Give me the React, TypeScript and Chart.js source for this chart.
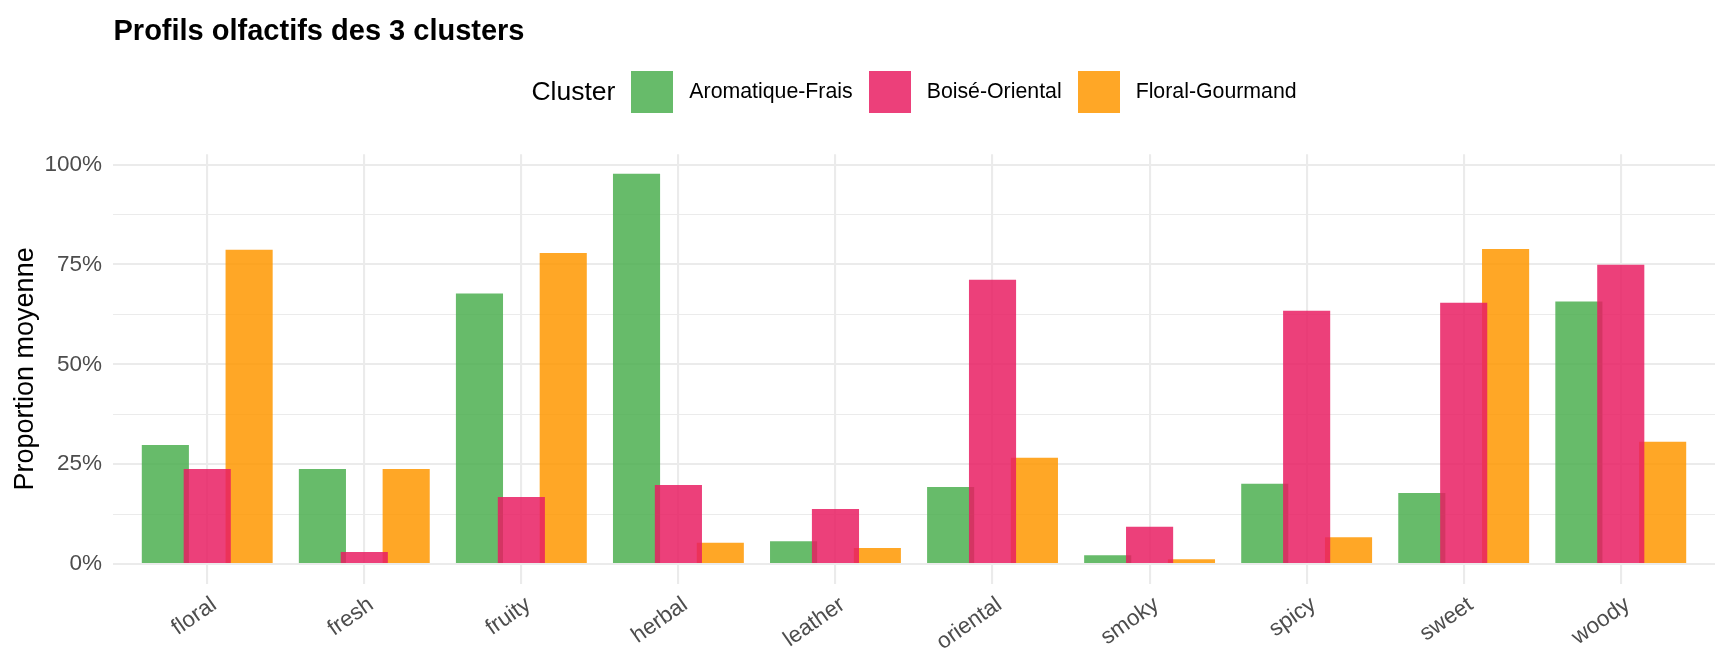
import React, { useEffect, useRef } from "react";
import { Chart, registerables } from "chart.js";

Chart.register(...registerables);

const categories = ["floral", "fresh", "fruity", "herbal", "leather", "oriental", "smoky", "spicy", "sweet", "woody"];
const clusterNames = ["Aromatique-Frais", "Boisé-Oriental", "Floral-Gourmand"];
const aromatiqueFrais = [29.8, 23.8, 67.7, 97.7, 5.7, 19.3, 2.2, 20.1, 17.8, 65.7];
const boiseOriental = [23.8, 3.0, 16.8, 19.8, 13.8, 71.2, 9.3, 63.4, 65.4, 74.9];
const floralGourmand = [78.7, 23.8, 77.9, 5.3, 4.0, 26.6, 1.2, 6.7, 78.9, 30.6];
const yMajorTicks = [0, 25, 50, 75, 100];
const yMinorTicks = [12.5, 37.5, 62.5, 87.5];

const colors = ["rgba(76, 175, 80, 0.85)", "rgba(233, 30, 99, 0.85)", "rgba(255, 152, 0, 0.85)"];
const FONT = "'Liberation Sans', Arial, Helvetica, sans-serif";

// ggplot draws the pink group over its neighbours
const drawOrder = [0, 2, 1];
const pinkOnTop = {
  id: "pinkOnTop",
  beforeDatasetsDraw(chart: Chart) {
    const { ctx, chartArea } = chart;
    ctx.save();
    ctx.beginPath();
    ctx.rect(chartArea.left, chartArea.top, chartArea.width, chartArea.height);
    ctx.clip();
    drawOrder.forEach((i) => chart.getDatasetMeta(i).controller.draw());
    ctx.restore();
    return false;
  },
};

const App: React.FC = () => {
  const canvasRef = useRef<HTMLCanvasElement | null>(null);

  useEffect(() => {
    document.body.style.margin = "0";
    if (!canvasRef.current) return;
    Chart.defaults.font.family = FONT;

    const series = [aromatiqueFrais, boiseOriental, floralGourmand];
    const dataMax = Math.max(...series.flat());

    const chart = new Chart(canvasRef.current, {
      type: "bar",
      data: {
        datasets: series.map((values, k) => ({
          label: clusterNames[k],
          data: values.map((v, i) => ({ x: i + 1, y: v })),
          backgroundColor: colors[k],
          borderWidth: 0,
          categoryPercentage: 0.8,
          barPercentage: 1.125,
        })),
      },
      options: {
        animation: false,
        responsive: true,
        maintainAspectRatio: false,
        layout: { padding: { top: 154.3, right: 13, bottom: 0, left: 0 } },
        plugins: {
          legend: { display: false },
          title: { display: false },
          tooltip: { enabled: false },
        },
        scales: {
          x: {
            type: "linear",
            offset: false,
            min: 0.4,
            max: categories.length + 0.6,
            afterBuildTicks: (scale: any) => {
              scale.ticks = categories.map((_, i) => ({ value: i + 1 }));
            },
            afterFit: (scale: any) => {
              scale.height = 88.5;
            },
            border: { display: false },
            grid: { color: "#EBEBEB", lineWidth: 2.1, drawTicks: false, offset: false },
            ticks: {
              autoSkip: false,
              minRotation: 35,
              maxRotation: 35,
              padding: 8,
              labelOffset: 7,
              color: "#4D4D4D",
              font: { size: 22.5 },
              callback: (value: any) => categories[Math.round(Number(value)) - 1],
            },
          },
          y: {
            min: -dataMax * 0.05,
            max: dataMax * 1.05,
            afterBuildTicks: (scale: any) => {
              scale.ticks = [...yMajorTicks, ...yMinorTicks].sort((a, b) => a - b).map((v) => ({ value: v }));
            },
            afterFit: (scale: any) => {
              scale.width = 113;
            },
            border: { display: false },
            grid: {
              color: "#EBEBEB",
              drawTicks: false,
              lineWidth: (ctx: any) => (yMajorTicks.includes(ctx.tick?.value) ? 2.1 : 1.1),
            },
            ticks: {
              autoSkip: false,
              padding: 11,
              color: "#4D4D4D",
              font: { size: 22.5 },
              callback: (value: any) => (yMajorTicks.includes(Number(value)) ? `${value}%` : ""),
            },
            title: {
              display: true,
              text: "Proportion moyenne",
              color: "#000000",
              font: { size: 27 },
              padding: { top: 9, bottom: 0 },
            },
          },
        },
      },
      plugins: [pinkOnTop],
    });

    return () => {
      chart.destroy();
    };
  }, []);

  return (
    <div style={{ position: "relative", width: 1728, height: 672, background: "#FFFFFF", fontFamily: FONT }}>
      <canvas ref={canvasRef} />
      <div
        style={{
          position: "absolute",
          left: 113.5,
          top: 15.5,
          fontSize: 29,
          lineHeight: "29px",
          fontWeight: "bold",
          color: "#000000",
          whiteSpace: "nowrap",
        }}
      >
        Profils olfactifs des 3 clusters
      </div>
      <div
        style={{
          position: "absolute",
          left: 113,
          width: 1602,
          top: 70.5,
          height: 42,
          display: "flex",
          justifyContent: "center",
          alignItems: "center",
          color: "#000000",
          whiteSpace: "nowrap",
        }}
      >
        <span style={{ fontSize: 26.5 }}>Cluster</span>
        {clusterNames.map((name, k) => (
          <React.Fragment key={name}>
            <span style={{ width: 42, height: 42, marginLeft: 16, background: colors[k], display: "inline-block" }} />
            <span style={{ fontSize: 21.3, marginLeft: 16 }}>{name}</span>
          </React.Fragment>
        ))}
      </div>
    </div>
  );
};

export default App;
